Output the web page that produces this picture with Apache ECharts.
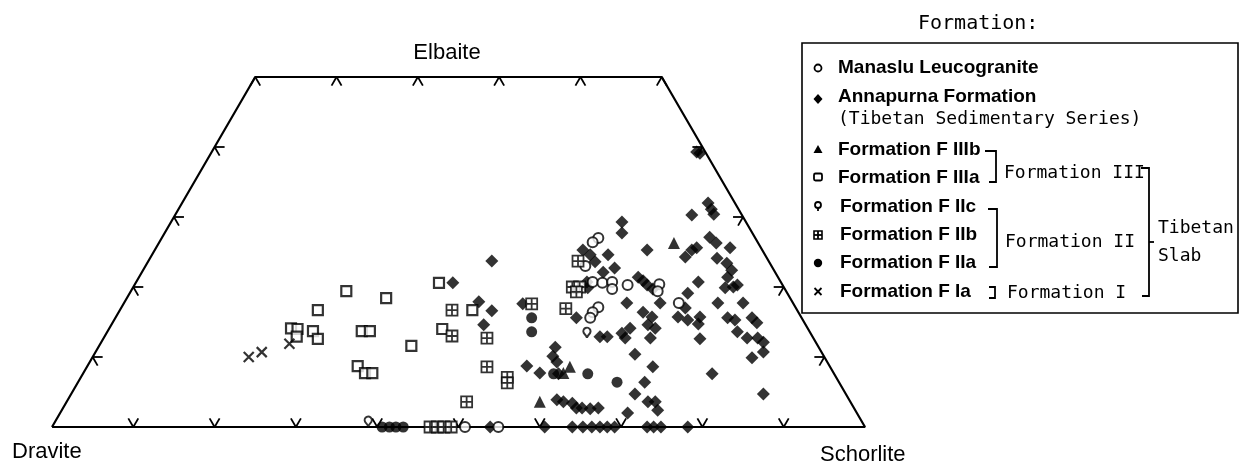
<!DOCTYPE html>
<html><head><meta charset="utf-8">
<script src="https://cdn.jsdelivr.net/npm/echarts@6/dist/echarts.min.js"></script>
<style>html,body{margin:0;padding:0;background:#fff}#c{width:1239px;height:475px}</style>
</head><body><div id="c"></div>
<script>
// Diagram coordinates: x = position along the Dravite–Schorlite base (Schorl% + Elbaite%/2), y = Elbaite %
const manaslu = [[67.2,27.0],[66.5,26.4],[65.6,23.0],[66.5,20.7],[67.7,20.6],[68.9,20.7],[68.9,19.7],[70.8,20.3],[74.7,20.4],[74.5,19.4],[67.2,17.1],[66.5,16.4],[66.2,15.6],[77.1,17.7],[50.8,0],[54.9,0]];
const annapurna = [
 [54.1,23.7],[49.3,20.6],[52.5,17.9],[54.1,16.6],[53.1,14.6],[57.9,17.6],[58.4,8.7],[60.0,7.7],[61.9,11.4],[61.6,10.1],[62.1,9.3],[62.3,7.6],[64.5,15.6],
 [62.1,3.9],[62.9,3.6],[64.0,3.4],[64.5,2.7],[65.2,2.7],[66.2,2.6],[67.2,2.7],
 [70.1,29.3],[70.1,27.7],[73.2,25.3],[65.3,25.3],[66.2,24.6],[66.8,23.6],[68.4,24.6],[69.2,22.7],[67.8,22.1],[65.9,19.9],[65.8,20.7],[72.1,21.4],[72.7,20.9],[73.2,20.3],[73.9,19.7],[70.7,17.7],[67.4,12.9],[68.3,12.9],[70.1,13.4],[71.1,14.1],[70.5,12.7],[74.8,17.7],[72.7,16.4],[73.8,15.7],[73.3,14.6],[74.2,14.1],[73.6,12.7],[71.7,10.4],[73.9,8.6],[72.9,6.4],[71.7,4.7],[73.3,3.6],[74.2,3.6],[74.5,2.4],[70.8,2.0],
 [79.3,39.3],[79.7,39.1],[78.7,30.3],[80.7,32.0],[81.1,31.1],[81.4,30.4],[77.9,24.3],[78.7,25.3],[79.3,25.6],[80.9,27.1],[81.7,26.3],[83.4,25.6],[81.8,24.1],[83.0,23.4],[83.6,22.4],[83.1,21.4],[83.8,20.0],[82.8,19.9],[84.3,20.3],[79.5,20.7],[78.2,19.1],[77.9,17.0],[77.0,15.7],[78.2,15.3],[79.7,15.7],[79.5,14.7],[79.7,12.6],[81.9,17.7],[85.0,17.7],[83.1,15.6],[84.0,15.3],[86.1,15.6],[86.7,14.9],[84.3,13.6],[85.5,12.7],[86.8,12.7],[87.5,12.1],[87.5,10.7],[86.1,9.9],[81.2,7.6],[87.5,4.7],
 [53.9,0],[60.6,0],[64.0,0],[65.3,0],[66.4,0],[67.4,0],[68.3,0],[69.2,0],[73.2,0],[74.0,0],[74.9,0],[78.2,0]
];
const fIIIb = [[76.5,26.3],[60.0,3.6],[63.7,8.6],[62.9,7.7]];
const fIIIa = [[36.2,19.4],[41.1,18.4],[32.7,16.7],[29.4,14.1],[30.2,14.0],[30.1,12.9],[32.1,13.7],[32.7,12.6],[38.1,13.7],[39.1,13.7],[44.2,11.6],[37.6,8.7],[38.5,7.7],[39.4,7.7],[47.6,20.6],[51.7,16.7],[48.0,14.0]];
const fIIc = [[65.8,12.7],[38.9,0]];
const fIIb = [[49.2,16.7],[49.2,13.0],[53.5,12.7],[53.5,8.6],[56.0,7.1],[56.0,6.3],[51.0,3.6],[59.0,17.6],[63.2,16.9],[64.7,23.7],[64.0,20.0],[64.9,20.0],[64.5,19.3],[46.5,0],[47.4,0],[48.2,0],[49.1,0]];
const fIIa = [[59.0,15.6],[59.0,13.6],[61.7,7.6],[65.9,7.6],[69.5,6.4],[40.6,0],[41.5,0],[42.3,0],[43.2,0]];
const fIa = [[24.2,10.0],[25.8,10.7],[29.2,11.9]];

const outline = [[0,0],[100,0],[75,50],[25,50],[0,0]];
const baseTicks = [10,20,30,40,50,60,70,80,90];
const topTicks = [25,35,45,55,65,75];
const sideTicks = [10,20,30,40];
const vertexLabels = ['Dravite','Elbaite','Schorlite'];

const tickData = [];
baseTicks.forEach(t => tickData.push([t,0,0]));
topTicks.forEach(t => tickData.push([t,50,1]));
sideTicks.forEach(e => tickData.push([e/2,e,2]));
sideTicks.forEach(e => tickData.push([100-e/2,e,3]));
const DIRS = [
  [[0.5,-0.866],[-0.5,-0.866]],
  [[0.5,0.866],[-0.5,0.866]],
  [[1,0],[0.5,0.866]],
  [[-1,0],[-0.5,0.866]]
];

const chart = echarts.init(document.getElementById('c'));
const open = {color:'#fff', borderColor:'#000', borderWidth:2};
const hatch = 'path://M0,0H10V10H0ZM5,0V10M0,5H10';
const cross = 'path://M0,0L10,10M10,0L0,10';

const LX = 818;
const boldF = 'bold 19px "Liberation Sans", Arial, sans-serif';
const monoF = '18px "DejaVu Sans Mono", monospace';
const labF = '22px "Liberation Sans", Arial, sans-serif';
function txt(x,y,t,font){return {type:'text',x:x,y:y,style:{text:t,font:font,fill:'#000',verticalAlign:'middle',align:'left'}};}
function pl(pts){return {type:'polyline',shape:{points:pts},style:{stroke:'#000',lineWidth:1.8,fill:null}};}
const ls = {stroke:'#000',lineWidth:1.8};
const legend = [
  {type:'rect',shape:{x:802,y:43,width:436,height:270},style:{stroke:'#000',lineWidth:1.6,fill:null}},
  {type:'text',x:918,y:24,style:{text:'Formation:',font:'20px "DejaVu Sans Mono", monospace',fill:'#000',verticalAlign:'middle'}},
  {type:'circle',shape:{cx:LX,cy:68,r:3.5},style:{fill:'#fff',stroke:'#000',lineWidth:1.8}},
  txt(838,68,'Manaslu Leucogranite',boldF),
  {type:'polygon',shape:{points:[[LX,94],[LX+4.5,99],[LX,104],[LX-4.5,99]]},style:{fill:'#000'}},
  txt(838,97,'Annapurna Formation',boldF),
  txt(838,119,'(Tibetan Sedimentary Series)',monoF),
  {type:'polygon',shape:{points:[[LX,145],[LX+4.5,153],[LX-4.5,153]]},style:{fill:'#000'}},
  txt(838,150,'Formation F IIIb',boldF),
  {type:'rect',shape:{x:LX-4,y:173.5,width:8,height:7,r:1.5},style:{fill:'#fff',stroke:'#000',lineWidth:1.8}},
  txt(838,178,'Formation F IIIa',boldF),
  {type:'circle',shape:{cx:LX,cy:205,r:3},style:{fill:'#fff',stroke:'#000',lineWidth:1.8}},
  {type:'line',shape:{x1:LX,y1:208,x2:LX,y2:211},style:ls},
  txt(840,207,'Formation F IIc',boldF),
  {type:'rect',shape:{x:LX-4,y:231,width:8,height:8},style:{fill:'#fff',stroke:'#000',lineWidth:1.6}},
  {type:'line',shape:{x1:LX,y1:231,x2:LX,y2:239},style:ls},
  {type:'line',shape:{x1:LX-4,y1:235,x2:LX+4,y2:235},style:ls},
  txt(840,235,'Formation F IIb',boldF),
  {type:'circle',shape:{cx:LX,cy:263,r:4.2},style:{fill:'#000'}},
  txt(840,263,'Formation F IIa',boldF),
  {type:'line',shape:{x1:LX-3.5,y1:288,x2:LX+3.5,y2:295},style:ls},
  {type:'line',shape:{x1:LX+3.5,y1:288,x2:LX-3.5,y2:295},style:ls},
  txt(840,292,'Formation F Ia',boldF),
  pl([[985,151],[996,151],[996,182],[989,182]]),
  txt(1004,173,'Formation III',monoF),
  pl([[1141,168],[1149,168],[1149,296],[1142,296]]),
  pl([[1149,242],[1154,242]]),
  pl([[988,209],[997,209],[997,267],[989,267]]),
  txt(1005,242,'Formation II',monoF),
  pl([[989,287],[995,287],[995,298],[989,298]]),
  txt(1007,293,'Formation I',monoF),
  txt(1158,228,'Tibetan',monoF),
  txt(1158,256,'Slab',monoF),
  {type:'text',x:447,y:53,style:{text:vertexLabels[1],font:labF,fill:'#000',align:'center',verticalAlign:'middle'}},
  {type:'text',x:12,y:452,style:{text:vertexLabels[0],font:labF,fill:'#000',align:'left',verticalAlign:'middle'}},
  {type:'text',x:820,y:455,style:{text:vertexLabels[2],font:labF,fill:'#000',align:'left',verticalAlign:'middle'}}
];

chart.setOption({
  animation:false,
  backgroundColor:'#fff',
  grid:{left:52,top:77,width:813,height:350},
  xAxis:{type:'value',min:0,max:100,show:false},
  yAxis:{type:'value',min:0,max:50,show:false},
  graphic:legend,
  series:[
    {type:'line',data:outline,symbol:'none',lineStyle:{color:'#000',width:2.2},silent:true,z:1},
    {type:'custom',data:tickData,clip:false,silent:true,z:1,
     renderItem:function(params,api){
       const p=api.coord([api.value(0),api.value(1)]);
       const d=DIRS[api.value(2)];
       const L=10;
       return {type:'group',children:d.map(v=>({type:'line',shape:{x1:p[0],y1:p[1],x2:p[0]+v[0]*L,y2:p[1]+v[1]*L},style:{stroke:'#000',lineWidth:1.8}}))};
     }},
    {name:'Annapurna Formation',type:'scatter',data:annapurna,symbol:'diamond',symbolSize:13,itemStyle:{color:'#000'},z:3},
    {name:'Formation F IIa',type:'scatter',data:fIIa,symbol:'circle',symbolSize:11,itemStyle:{color:'#000'},z:3},
    {name:'Formation F IIIb',type:'scatter',data:fIIIb,symbol:'triangle',symbolSize:12,itemStyle:{color:'#000'},z:3},
    {name:'Manaslu Leucogranite',type:'scatter',data:manaslu,symbol:'circle',symbolSize:10,itemStyle:open,z:4},
    {name:'Formation F IIc',type:'scatter',data:fIIc,symbol:'pin',symbolSize:12,itemStyle:open,z:4},
    {name:'Formation F IIIa',type:'scatter',data:fIIIa,symbol:'rect',symbolSize:10,itemStyle:{color:'#fff',borderColor:'#000',borderWidth:2.2},z:4},
    {name:'Formation F IIb',type:'scatter',data:fIIb,symbol:hatch,symbolSize:11,itemStyle:{color:'#fff',borderColor:'#000',borderWidth:1.8},z:4},
    {name:'Formation F Ia',type:'scatter',data:fIa,symbol:cross,symbolSize:10,itemStyle:{color:'rgba(0,0,0,0)',borderColor:'#000',borderWidth:2.2},z:4}
  ]
});
</script></body></html>
